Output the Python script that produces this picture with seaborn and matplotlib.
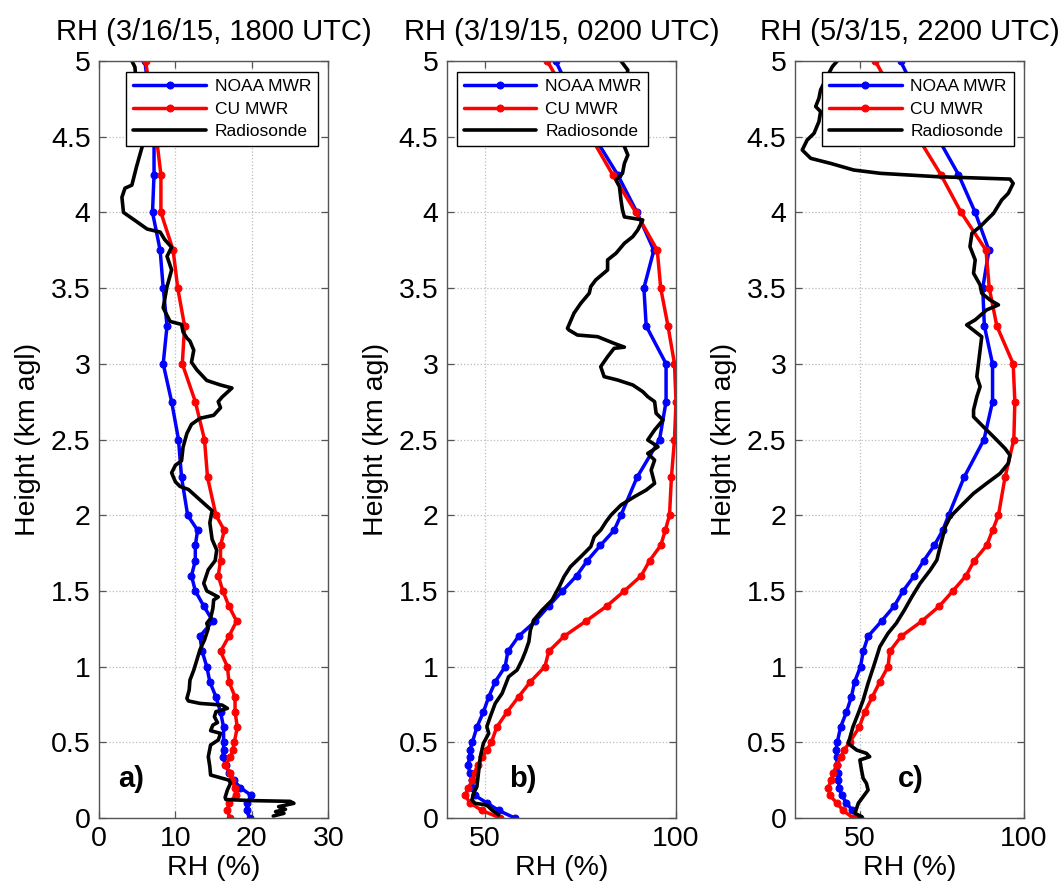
import matplotlib
matplotlib.use("Agg")
import matplotlib.pyplot as plt
import seaborn as sns

# ---------------- data ----------------
mwr_h = [0, 0.05, 0.1, 0.15, 0.2, 0.25, 0.3, 0.35, 0.4, 0.45, 0.5,
         0.6, 0.7, 0.8, 0.9, 1.0, 1.1, 1.2, 1.3, 1.4, 1.5, 1.6, 1.7, 1.8, 1.9, 2.0,
         2.25, 2.5, 2.75, 3.0, 3.25, 3.5, 3.75, 4.0, 4.25, 4.5, 4.75, 5.0]

noaa_a = [19.7, 19.3, 19.4, 19.9, 18.5, 17.6, 17.0, 16.6, 16.2, 16.3, 16.3,
          16.3, 15.9, 15.3, 14.5, 14.1, 13.5, 13.2, 14.9, 13.7, 12.6, 12.1, 12.6, 12.6, 12.9, 11.6,
          10.8, 10.4, 9.5, 8.4, 8.9, 8.4, 8.0, 7.0, 7.2, 7.2, 6.6, 6.0]
cu_a = [17.1, 16.8, 17.0, 17.9, 17.8, 17.4, 17.1, 16.5, 17.2, 17.5, 17.7,
        18.1, 17.8, 17.8, 17.0, 16.8, 15.9, 17.0, 18.0, 17.0, 16.2, 15.6, 15.9, 15.9, 16.4, 15.3,
        14.2, 13.8, 12.6, 10.9, 11.2, 10.3, 9.7, 8.1, 8.1, 7.5, 6.8, 6.1]

noaa_b = [57.8, 53.6, 50.5, 47.3, 47.0, 46.6, 46.1, 45.5, 46.1, 46.1, 46.7,
          47.9, 49.6, 51.0, 52.7, 55.3, 56.0, 58.8, 63.2, 66.7, 70.3, 74.0, 76.8, 80.2, 83.8, 85.6,
          89.8, 95.7, 97.4, 97.4, 92.2, 91.6, 94.2, 89.8, 84.7, 78.6, 73.3, 68.5]
cu_b = [54.0, 49.2, 46.1, 44.8, 45.7, 46.7, 47.3, 48.1, 49.2, 50.5, 51.7,
        53.1, 55.8, 58.8, 61.9, 65.7, 66.7, 70.7, 76.4, 81.9, 86.5, 90.9, 93.1, 96.0, 97.2, 98.3,
        98.8, 99.6, 100.0, 99.6, 97.9, 96.0, 95.1, 89.5, 83.4, 77.7, 72.0, 66.3]

noaa_c = [49.9, 47.6, 45.8, 44.3, 43.6, 43.3, 43.3, 43.0, 42.8, 42.6, 43.0,
          44.0, 45.8, 47.3, 48.3, 50.1, 50.9, 52.4, 56.5, 60.4, 63.1, 66.5, 69.4, 72.6, 75.2, 77.0,
          81.7, 87.8, 90.4, 90.4, 87.9, 87.4, 89.3, 85.1, 80.0, 73.5, 68.0, 62.3]
cu_c = [47.8, 44.8, 42.8, 40.7, 40.2, 41.2, 41.8, 42.8, 44.0, 45.1, 46.8,
        49.7, 51.4, 53.7, 56.0, 58.5, 59.0, 62.5, 68.8, 74.2, 78.3, 82.3, 84.8, 88.6, 90.4, 92.2,
        94.2, 96.9, 97.2, 96.7, 91.7, 89.4, 88.4, 80.8, 74.6, 67.5, 61.0, 54.6]

sonde_a_rh = [22.8, 24.2, 23.1, 24.4, 23.5, 25.5, 25.0, 20.0, 16.6, 16.5, 16.8, 17.2, 17.0, 14.6,
              14.5, 14.3, 14.6, 15.6, 15.9, 14.6, 14.9, 15.5, 15.1, 15.3, 16.8, 16.1, 13.2, 11.7,
              11.5, 11.8, 11.9, 12.4, 12.8, 13.2, 13.8, 14.3, 14.1, 14.6, 14.9, 15.0, 15.6, 14.1,
              13.7, 14.3, 15.2, 15.4, 14.8, 14.5, 14.8, 13.9, 12.8, 11.7, 10.6, 10.0, 9.5, 10.0,
              10.8, 11.0, 11.5, 12.1, 13.2, 15.0, 15.9, 15.6, 16.1, 17.4, 15.9, 14.1, 12.8, 12.1,
              12.4, 11.9, 11.5, 11.0, 10.8, 9.3, 8.4, 8.9, 9.5, 8.9, 9.5, 8.6, 8.0, 6.3, 4.9, 3.2,
              3.0, 3.4, 4.3, 4.9, 5.4, 5.8, 5.3, 4.8, 4.7, 4.3]
sonde_a_h = [0.013, 0.031, 0.042, 0.057, 0.075, 0.097, 0.110, 0.115, 0.122, 0.136, 0.185, 0.229,
             0.250, 0.284, 0.339, 0.405, 0.482, 0.515, 0.559, 0.577, 0.614, 0.630, 0.669, 0.702,
             0.724, 0.746, 0.757, 0.773, 0.790, 0.845, 0.911, 0.977, 1.043, 1.110, 1.176, 1.253,
             1.286, 1.319, 1.385, 1.44, 1.46, 1.50, 1.55, 1.64, 1.70, 1.77, 1.84, 1.95, 2.03, 2.07,
             2.12, 2.17, 2.19, 2.22, 2.28, 2.33, 2.36, 2.45, 2.54, 2.60, 2.64, 2.66, 2.71, 2.75,
             2.78, 2.84, 2.86, 2.89, 2.96, 3.01, 3.09, 3.15, 3.17, 3.21, 3.26, 3.28, 3.37, 3.51,
             3.62, 3.71, 3.77, 3.82, 3.87, 3.89, 3.94, 4.00, 4.10, 4.16, 4.18, 4.30, 4.39, 4.46,
             4.70, 4.90, 4.96, 5.0]

sonde_b_rh = [53.6, 51.8, 50.5, 47.4, 46.6, 47.0, 47.9, 48.3, 48.8, 49.6, 51.0, 50.5, 51.4, 52.7,
              54.5, 56.2, 58.4, 59.7, 60.6, 61.5, 61.9, 62.8, 65.0, 67.6, 68.5, 69.5, 70.7, 72.4,
              75.1, 77.7, 78.6, 80.3, 81.7, 83.0, 85.6, 89.1, 92.2, 94.4, 93.5, 94.4, 92.6, 95.3,
              92.6, 94.4, 96.6, 94.8, 94.4, 92.6, 91.3, 88.7, 84.7, 81.2, 80.3, 82.1, 83.8, 86.5,
              83.8, 79.5, 74.2, 72.0, 71.6, 73.3, 75.1, 77.3, 77.7, 79.0, 82.1, 82.1, 84.3, 86.5,
              88.7, 90.0, 91.3, 88.7, 86.5, 86.0, 85.6, 85.2, 84.3, 86.0, 86.5, 87.4, 86.5, 86.8,
              86.2, 87.4, 85.6]
sonde_b_h = [0.02, 0.053, 0.086, 0.097, 0.119, 0.163, 0.207, 0.295, 0.405, 0.493, 0.559, 0.603,
             0.669, 0.757, 0.823, 0.933, 0.977, 1.043, 1.099, 1.165, 1.242, 1.308, 1.374, 1.44,
             1.484, 1.53, 1.594, 1.66, 1.726, 1.792, 1.858, 1.902, 1.957, 2.001, 2.067, 2.122,
             2.166, 2.21, 2.298, 2.364, 2.408, 2.452, 2.497, 2.563, 2.629, 2.673, 2.75, 2.783,
             2.816, 2.86, 2.893, 2.915, 2.981, 3.047, 3.102, 3.11, 3.135, 3.179, 3.19, 3.223,
             3.234, 3.334, 3.40, 3.466, 3.51, 3.554, 3.62, 3.686, 3.73, 3.796, 3.84, 3.884, 3.95,
             3.961, 3.97, 4.016, 4.082, 4.17, 4.214, 4.258, 4.324, 4.379, 4.434, 4.6, 4.8, 4.94, 5.0]

sonde_c_rh = [50.4, 48.4, 48.9, 49.4, 50.9, 52.4, 51.9, 50.9, 50.4, 49.9, 52.9, 51.9, 48.9, 46.3,
              46.8, 47.8, 49.4, 50.9, 52.4, 54.4, 56.0, 58.5, 61.0, 63.5, 65.8, 68.3, 71.4, 73.4,
              74.4, 76.0, 77.5, 80.5, 84.6, 88.6, 92.7, 95.2, 95.7, 94.2, 90.7, 87.6, 84.6, 84.6,
              85.6, 86.6, 85.6, 86.1, 86.6, 87.1, 82.5, 85.1, 88.6, 92.2, 89.6, 87.1, 86.6, 84.6,
              85.1, 83.5, 84.1, 86.6, 90.7, 93.2, 95.2, 96.7, 95.7, 73.4, 56.2, 48.0, 40.9, 34.9,
              32.3, 33.8, 35.9, 37.4, 37.9, 36.4, 37.4, 37.9, 39.9, 41.5, 43.0]
sonde_c_h = [0.009, 0.031, 0.064, 0.097, 0.141, 0.185, 0.229, 0.262, 0.317, 0.383, 0.405, 0.427,
             0.449, 0.493, 0.526, 0.603, 0.691, 0.779, 0.89, 1.022, 1.132, 1.22, 1.286, 1.374,
             1.462, 1.55, 1.638, 1.704, 1.792, 1.924, 1.99, 2.056, 2.144, 2.21, 2.276, 2.342,
             2.397, 2.441, 2.518, 2.584, 2.65, 2.695, 2.783, 2.849, 2.915, 3.003, 3.091, 3.179,
             3.257, 3.29, 3.356, 3.389, 3.422, 3.466, 3.521, 3.598, 3.686, 3.774, 3.862, 3.906,
             3.994, 4.082, 4.126, 4.192, 4.22, 4.236, 4.258, 4.28, 4.324, 4.357, 4.412, 4.478,
             4.522, 4.6, 4.666, 4.699, 4.754, 4.809, 4.897, 4.963, 5.0]

titles = ["RH (3/16/15, 1800 UTC)", "RH (3/19/15, 0200 UTC)", "RH (5/3/15, 2200 UTC)"]
panel_tags = ["a)", "b)", "c)"]
xlims = [(0, 30), (40, 100), (30, 100)]
xticks = [[0, 10, 20, 30], [50, 100], [50, 100]]
yticks = [0, 0.5, 1, 1.5, 2, 2.5, 3, 3.5, 4, 4.5, 5]
yticklabels = ["0", "0.5", "1", "1.5", "2", "2.5", "3", "3.5", "4", "4.5", "5"]
tag_x = [2.5, 56.4, 61.4]
legend_right = [0.956, 0.88, 0.955]

# ---------------- style ----------------
sns.set_style("ticks")
plt.rcParams["font.family"] = ["Liberation Sans", "DejaVu Sans"]
plt.rcParams["text.color"] = "black"
plt.rcParams["axes.labelcolor"] = "black"

fig = plt.figure(figsize=(10.64, 8.91), dpi=100)
lefts = [99 / 1064, 446.7 / 1064, 794.7 / 1064]
bottom = 73 / 891
width = 229.3 / 1064
height = 757 / 891

noaa = [noaa_a, noaa_b, noaa_c]
cu = [cu_a, cu_b, cu_c]
sonde_rh = [sonde_a_rh, sonde_b_rh, sonde_c_rh]
sonde_h = [sonde_a_h, sonde_b_h, sonde_c_h]

FS = 20.5
spine_col = "#555555"

for i in range(3):
    ax = fig.add_axes([lefts[i], bottom, width, height])
    sns.lineplot(x=noaa[i], y=mwr_h, sort=False, estimator=None, ax=ax, color="#0000ff",
                 linewidth=2.5, marker="o", markersize=5.0, markeredgecolor="#0000ff",
                 label="NOAA MWR")
    sns.lineplot(x=cu[i], y=mwr_h, sort=False, estimator=None, ax=ax, color="#ff0000",
                 linewidth=2.5, marker="o", markersize=5.0, markeredgecolor="#ff0000",
                 label="CU MWR")
    sns.lineplot(x=sonde_rh[i], y=sonde_h[i], sort=False, estimator=None, ax=ax, color="black",
                 linewidth=2.6, label="Radiosonde")

    ax.set_xlim(*xlims[i])
    ax.set_ylim(0, 5)
    ax.set_xticks(xticks[i])
    ax.set_yticks(yticks)
    ax.set_yticklabels(yticklabels)
    ax.grid(True, linestyle=":", color="#bdbdbd", linewidth=0.9)
    ax.set_axisbelow(True)
    ax.tick_params(direction="in", length=5, width=0.9, top=True, right=True,
                   labelsize=FS, color=spine_col, labelcolor="black", pad=6)
    for s in ax.spines.values():
        s.set_visible(True)
        s.set_color(spine_col)
        s.set_linewidth(1.0)

    ax.set_title(titles[i], fontsize=FS + 0.5, pad=15, color="black")
    ax.set_xlabel("RH (%)", fontsize=FS, labelpad=2, color="black")
    ax.set_ylabel("Height (km agl)", fontsize=FS, labelpad=7, color="black")
    ax.text(tag_x[i], 0.26, panel_tags[i], fontsize=FS + 0.5, fontweight="bold",
            ha="left", va="center", color="black")

    leg = ax.legend(loc="upper right", bbox_to_anchor=(legend_right[i], 0.985),
                    borderaxespad=0, fontsize=12.5, frameon=True, fancybox=False,
                    framealpha=1, edgecolor="black", handlelength=4.2, numpoints=1,
                    labelspacing=0.42, borderpad=0.4, handletextpad=0.5)
    leg.get_frame().set_linewidth(1.0)
    for t in leg.get_texts():
        t.set_color("black")

fig.savefig("out.png", dpi=100)
